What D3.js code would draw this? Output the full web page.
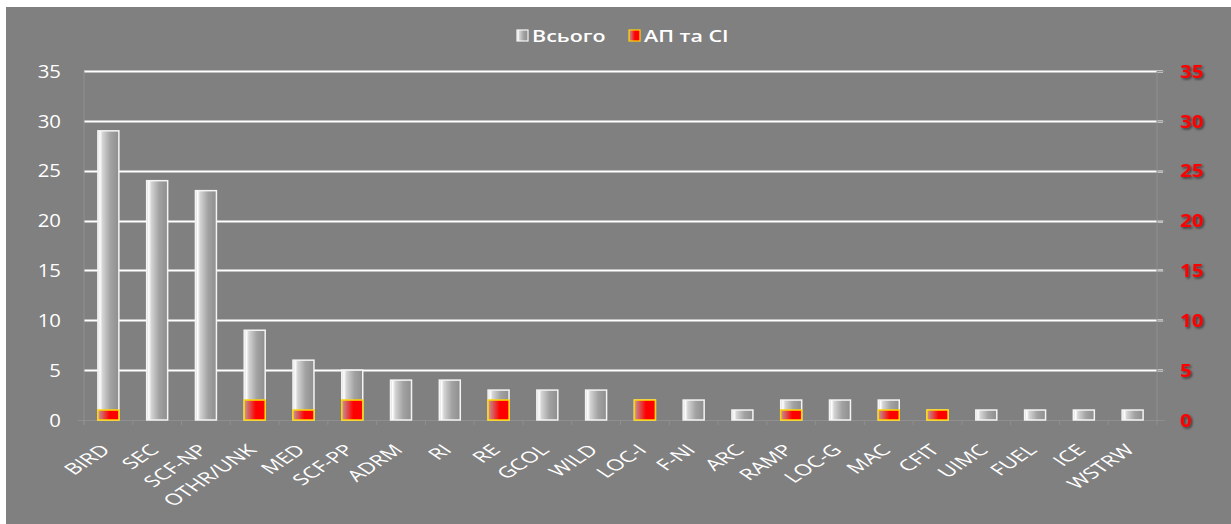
<!DOCTYPE html>
<html>
<head>
<meta charset="utf-8">
<script src="https://cdn.jsdelivr.net/npm/d3@7"></script>
<style>
  html, body { margin: 0; padding: 0; background: #ffffff; }
  svg { display: block; }
</style>
</head>
<body>
<svg id="chart" width="1231" height="524"></svg>
<script>
// Event categories and counts
const categories = ["BIRD", "SEC", "SCF-NP", "OTHR/UNK", "MED", "SCF-PP", "ADRM", "RI", "RE", "GCOL", "WILD",
  "LOC-I", "F-NI", "ARC", "RAMP", "LOC-G", "MAC", "CFIT", "UIMC", "FUEL", "ICE", "WSTRW"];
const totalValues = [29, 24, 23, 9, 6, 5, 4, 4, 3, 3, 3, 2, 2, 1, 2, 2, 2, 1, 1, 1, 1, 1];
const apsiValues  = [1, 0, 0, 2, 1, 2, 0, 0, 2, 0, 0, 2, 0, 0, 1, 0, 1, 1, 0, 0, 0, 0];
const yTicks = [0, 5, 10, 15, 20, 25, 30, 35];
const seriesNames = ["Всього", "АП та СІ"];

const svg = d3.select("#chart");
const W = 1231, H = 524;
const FONT = "'Open Sans', sans-serif";

// Gray panel with a thin white margin on the top and left
svg.append("rect").attr("x", 6).attr("y", 7).attr("width", W - 6).attr("height", H - 7).attr("fill", "#808080");

const defs = svg.append("defs");
const gGray = defs.append("linearGradient").attr("id", "glass").attr("x1", "0").attr("x2", "1").attr("y1", "0").attr("y2", "0");
[["0%", "#d0d0d0"], ["10%", "#ffffff"], ["22%", "#d4d4d4"], ["60%", "#a2a2a2"], ["100%", "#8e8e8e"]]
  .forEach(([o, c]) => gGray.append("stop").attr("offset", o).attr("stop-color", c));
const gRed = defs.append("linearGradient").attr("id", "redglass").attr("x1", "0").attr("x2", "1").attr("y1", "0").attr("y2", "0");
[["0%", "#c89a9a"], ["15%", "#d07070"], ["55%", "#ff0000"], ["100%", "#ff0000"]]
  .forEach(([o, c]) => gRed.append("stop").attr("offset", o).attr("stop-color", c));
const shadow = defs.append("filter").attr("id", "tshadow").attr("x", "-20%").attr("y", "-20%").attr("width", "150%").attr("height", "150%");
shadow.append("feDropShadow").attr("dx", 1.5).attr("dy", 1.5).attr("stdDeviation", 1).attr("flood-color", "#000").attr("flood-opacity", 0.55);

const plot = { left: 84, right: 1157, top: 71, bottom: 420 };

const x = d3.scaleBand().domain(categories).range([plot.left, plot.right]).paddingInner(0.57).paddingOuter(0.285);
const yL = d3.scaleLinear().domain([0, 35]).range([plot.bottom, plot.top]);
const yR = d3.scaleLinear().domain([0, 35]).range([plot.bottom, plot.top]);

// Horizontal gridlines
svg.append("g").selectAll("line").data(yTicks.filter(d => d > 0)).join("line")
  .attr("x1", plot.left).attr("x2", plot.right + 6)
  .attr("y1", d => Math.round(yL(d)) + 0.5).attr("y2", d => Math.round(yL(d)) + 0.5)
  .attr("stroke", "#ffffff").attr("stroke-width", 2);

// Faint axis lines and category ticks
const faint = "#8f8f8f";
svg.append("line").attr("x1", plot.left).attr("x2", plot.left).attr("y1", plot.top).attr("y2", plot.bottom + 5).attr("stroke", faint);
svg.append("line").attr("x1", plot.right).attr("x2", plot.right).attr("y1", plot.top).attr("y2", plot.bottom + 5).attr("stroke", faint);
svg.append("line").attr("x1", plot.left - 6).attr("x2", plot.right + 8).attr("y1", plot.bottom + 0.5).attr("y2", plot.bottom + 0.5).attr("stroke", faint);
svg.append("g").selectAll("line").data(categories).join("line")
  .attr("x1", d => x(d) - x.step() * x.paddingInner() / 2).attr("x2", d => x(d) - x.step() * x.paddingInner() / 2)
  .attr("y1", plot.bottom).attr("y2", plot.bottom + 5).attr("stroke", faint);
svg.append("g").selectAll("line").data(yTicks).join("line")
  .attr("x1", plot.right).attr("x2", plot.right + 8)
  .attr("y1", d => yR(d) + 0.5).attr("y2", d => yR(d) + 0.5).attr("stroke", faint);

// Total bars
svg.append("g").selectAll("rect").data(categories).join("rect")
  .attr("x", d => x(d)).attr("width", x.bandwidth())
  .attr("y", (d, i) => yL(totalValues[i])).attr("height", (d, i) => yL(0) - yL(totalValues[i]))
  .attr("fill", "url(#glass)").attr("stroke", "#f4f4f4").attr("stroke-width", 1.5);

// Secondary-axis bars drawn over the totals
svg.append("g").selectAll("rect").data(categories.filter((d, i) => apsiValues[i] > 0)).join("rect")
  .attr("x", d => x(d)).attr("width", x.bandwidth())
  .attr("y", d => yR(apsiValues[categories.indexOf(d)]))
  .attr("height", d => yR(0) - yR(apsiValues[categories.indexOf(d)]))
  .attr("fill", "url(#redglass)").attr("stroke", "#ffd400").attr("stroke-width", 1.5);

// Left axis labels
svg.append("g").selectAll("text").data(yTicks).join("text")
  .attr("transform", d => `translate(61,${yL(d)}) scale(1.1,1)`).attr("dy", "0.36em")
  .attr("text-anchor", "end").attr("fill", "#ffffff")
  .attr("font-family", FONT).attr("font-size", 18.5)
  .text(d => d);

// Right axis labels
svg.append("g").attr("filter", "url(#tshadow)").selectAll("text").data(yTicks).join("text")
  .attr("transform", d => `translate(1180,${yR(d)}) scale(1.1,1)`).attr("dy", "0.36em")
  .attr("text-anchor", "start").attr("fill", "#ff0000").attr("font-weight", "bold")
  .attr("font-family", FONT).attr("font-size", 18.5)
  .text(d => d);

// Category labels, rotated 45° within a horizontally widened frame
svg.append("g").selectAll("text").data(categories).join("text")
  .attr("transform", d => `translate(${x(d) + x.bandwidth() / 2 + 3},${plot.bottom + 31}) scale(1.5,1) rotate(-45)`)
  .attr("text-anchor", "end").attr("fill", "#ffffff")
  .attr("font-family", FONT).attr("font-size", 15.5)
  .text(d => d);

// Legend
const legend = svg.append("g");
const lg = [
  { name: seriesNames[0], x: 517, fill: "url(#glass)", stroke: "#f4f4f4" },
  { name: seriesNames[1], x: 629, fill: "url(#redglass)", stroke: "#ffd400" }
];
lg.forEach(item => {
  legend.append("rect").attr("x", item.x).attr("y", 30).attr("width", 11).attr("height", 11)
    .attr("fill", item.fill).attr("stroke", item.stroke).attr("stroke-width", 1.2);
  legend.append("text").attr("transform", `translate(${item.x + 15},36) scale(1.3,1)`).attr("dy", "0.36em")
    .attr("fill", "#ffffff").attr("font-weight", 600)
    .attr("font-family", FONT).attr("font-size", 16.5)
    .text(item.name);
});
</script>
</body>
</html>
